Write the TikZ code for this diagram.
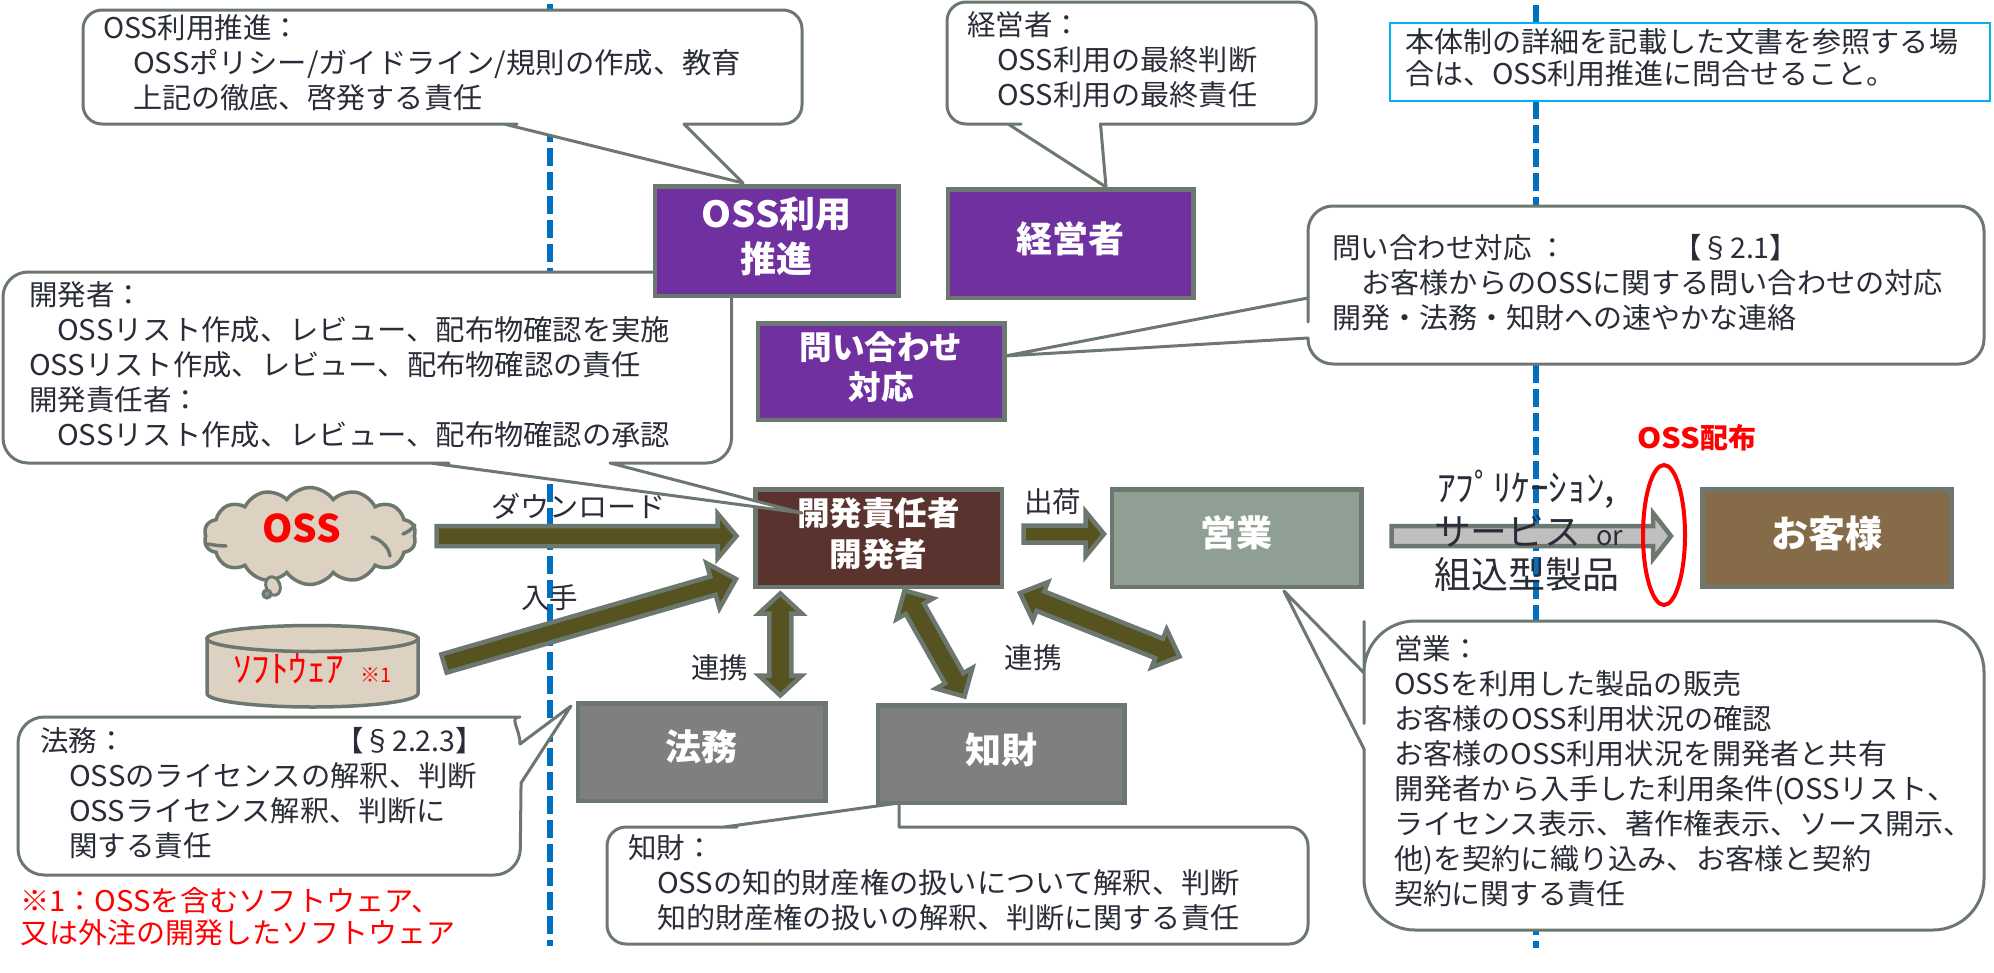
\documentclass[tikz,border=0pt]{standalone}
\usepackage{fontspec}
\usepackage{graphicx}
\setmainfont{Noto Sans CJK JP}
\usetikzlibrary{calc,shapes.geometric,shapes.symbols}
\definecolor{edge}{HTML}{6C786F}
\definecolor{ink}{HTML}{2A2D38}
\definecolor{vio}{HTML}{7030A0}
\definecolor{devb}{HTML}{5A332E}
\definecolor{sale}{HTML}{8F9F94}
\definecolor{cust}{HTML}{866B49}
\definecolor{legal}{HTML}{7F7F7F}
\definecolor{sand}{HTML}{DDD2C1}
\definecolor{olive}{HTML}{565321}
\definecolor{steel}{HTML}{BFBFBF}
\definecolor{divider}{HTML}{0070C0}
\definecolor{note}{HTML}{00B0F0}
\newcommand\fitw[2]{\resizebox{#1pt}{\height}{#2}}
\newcommand\lnstrut{\rule[-4.2pt]{0pt}{30pt}}
\newcommand\bigstrut{\rule[-1pt]{0pt}{30pt}}
\newcommand\topstrut{\rule{0pt}{30pt}}
\newcommand\botstrut[1]{\rule[-#1pt]{0pt}{#1pt}}
\newcommand\oneway[6][olive]{%
  \coordinate (hb) at ($(#3)!#5pt!(#2)$);
  \draw[blockarrow,fill=#1] ($(#2)!#4pt!90:(#3)$) -- ($(hb)!#4pt!90:(#3)$) -- ($(hb)!#6pt!90:(#3)$) -- (#3)
    -- ($(hb)!#6pt!-90:(#3)$) -- ($(hb)!#4pt!-90:(#3)$) -- ($(#2)!#4pt!-90:(#3)$) -- cycle;}
\newcommand\twoway[5]{%
  \coordinate (hb) at ($(#2)!#4pt!(#1)$);
  \coordinate (ha) at ($(#1)!#4pt!(#2)$);
  \draw[blockarrow,fill=olive] (#1) -- ($(ha)!#5pt!90:(#2)$) -- ($(ha)!#3pt!90:(#2)$) -- ($(hb)!#3pt!90:(#2)$) -- ($(hb)!#5pt!90:(#2)$) -- (#2)
    -- ($(hb)!#5pt!-90:(#2)$) -- ($(hb)!#3pt!-90:(#2)$) -- ($(ha)!#3pt!-90:(#2)$) -- ($(ha)!#5pt!-90:(#2)$) -- cycle;}
\tikzset{
  callout/.style={draw=edge,fill=white,line width=3pt,line join=round},
  blockarrow/.style={draw=edge,line width=4.5pt,line join=miter},
  rolebox/.style={draw=edge,line width=4.5pt,inner sep=0pt,text=white,align=center,
    font=\bfseries\fontsize{36}{45}\selectfont},
  bodytext/.style={anchor=west,inner sep=0pt,align=left,text=ink,font=\fontsize{28.5}{35}\selectfont},
  flowlabel/.style={inner sep=0pt,text=ink,font=\fontsize{28.5}{35}\selectfont},
  rednote/.style={anchor=west,inner sep=0pt,align=left,text=red,font=\fontsize{28.5}{32}\selectfont},
  dividerline/.style={draw=divider,line width=5.5pt,dash pattern=on 17.5pt off 6.5pt}
}
\begin{document}
\begin{tikzpicture}[x=1pt,y=-1pt]
\useasboundingbox (0,0) rectangle (1994,972);
% dashed dividers
\coordinate (divAtop) at (550,4.3); \coordinate (divAbot) at (550,946);
\coordinate (divBtop) at (1536,5); \coordinate (divBbot) at (1536,948);
\draw[dividerline] (divAtop) -- (divAbot);
\draw[dividerline] (divBtop) -- (divBbot);
% developer box below its callout
\node[rolebox,fill=devb,minimum width=246.5pt,minimum height=97.5pt,font=\bfseries\fontsize{32.6}{41}\selectfont] (dev) at (878.5,538)
  {\topstrut\fitw{163}{開発責任者}\\開発者\botstrut{14.2}};
% callouts
\draw[callout] (504,124) -- (743,183) -- (684,124) -- (690,124) [rounded corners=19pt] -- (802,124) -- (802,10) -- (83,10) -- (83,124) -- (498,124) [sharp corners] -- cycle;
\draw[callout] (1008,124) -- (1106,187) -- (1100.5,124) -- (1105,124) [rounded corners=19pt] -- (1316,124) -- (1316,2) -- (947,2) -- (947,124) -- (1002,124) [sharp corners] -- cycle;
\draw[callout] (430,463) -- (802,513) -- (610,463) -- (615,463) [rounded corners=25pt] -- (731.5,463) -- (731.5,272) -- (3,272) -- (3,463) -- (424,463) [sharp corners] -- cycle;
\draw[callout] (1308,298) -- (1005,356) -- (1308,338) -- (1308,338.5) [rounded corners=25pt] -- (1308,364) -- (1984,364) -- (1984,206) -- (1308,206) -- (1308,297) [sharp corners] -- cycle;
\draw[callout] (520,744) -- (571,706) -- (521,783) -- (521,788) [rounded corners=26pt] -- (520,875) -- (18,875) -- (18,717) -- (494,717) [sharp corners] .. controls (508.4,717) and (520,728.6) .. (520,744) -- cycle;
\draw[callout] (724,827) -- (899,803) -- (899,827) -- (905,827) [rounded corners=19pt] -- (1308,827) -- (1308,944) -- (607,944) -- (607,827) -- (718,827) [sharp corners] -- cycle;
\draw[callout] (1364,673) -- (1284,591) -- (1364,749) -- (1364,755) [rounded corners=51pt] -- (1364,930) -- (1984,930) -- (1984,621) -- (1364,621) -- (1364,672.5) [sharp corners] -- cycle;
% note box
\node[draw=note,fill=white,line width=2.5pt,inner sep=0pt,minimum width=600pt,minimum height=78pt] (notebox) at (1690,62) {};
% role boxes
\node[rolebox,fill=vio,minimum width=243.5pt,minimum height=109.5pt] (oss) at (776.5,241)
  {\topstrut\fitw{78}{OSS}利用\\推進\botstrut{13.6}};
\node[rolebox,fill=vio,minimum width=245.5pt,minimum height=108.5pt] (ceo) at (1070.5,243.5)
  {\topstrut 経営者\botstrut{13.6}};
\node[rolebox,fill=vio,minimum width=246.5pt,minimum height=96.5pt,font=\bfseries\fontsize{32.6}{40}\selectfont] (inq) at (881,371.5)
  {\topstrut 問い合わせ\\対応\botstrut{14.2}};
\node[rolebox,fill=sale,minimum width=249.5pt,minimum height=97.5pt] (sales) at (1236.5,538)
  {\topstrut 営業\botstrut{14.6}};
\node[rolebox,fill=cust,minimum width=249pt,minimum height=97.5pt,font=\bfseries\fontsize{37}{45}\selectfont] (cus) at (1827.2,538)
  {\topstrut お客様\botstrut{11.9}};
\node[rolebox,fill=legal,minimum width=247.5pt,minimum height=97.5pt] (law) at (701.5,752)
  {\topstrut 法務\botstrut{14.6}};
\node[rolebox,fill=legal,minimum width=246.5pt,minimum height=97.5pt] (ip) at (1001,754)
  {\topstrut 知財\botstrut{12.6}};
% cloud and cylinder
\node[cloud,draw=edge,fill=sand,line width=3.5pt,cloud puffs=14,cloud puff arc=110,aspect=2.15,inner sep=0pt,minimum width=212pt,minimum height=97pt] (cloud) at (310,536) {};
\draw[edge,line width=3.5pt,line cap=round] (372,537) .. controls (382,540) and (389,548) .. (390,556);
\draw[edge,line width=3.5pt,line cap=round] (207,544) .. controls (214,545) and (220,546) .. (226,546);
\draw[edge,line width=3.5pt,line cap=round] (415,525) .. controls (412,529) and (408,532) .. (403,534);
\node[ellipse,draw=edge,fill=sand,line width=3pt,inner sep=0pt,minimum width=14pt,minimum height=19pt,rotate=20] (bubbleA) at (273,586) {};
\node[circle,draw=edge,fill=edge!70!sand,line width=3pt,inner sep=0pt,minimum size=8pt] (bubbleB) at (267,594) {};
\node[text=red,inner sep=0pt,font=\bfseries\fontsize{38}{38}\selectfont] (osslabel) at (302,528) {\fitw{79}{OSS}};
\draw[draw=edge,fill=sand,line width=3.5pt] (207,638.5) -- (207,693.5) .. controls (207,701) and (254,707) .. (312.5,707) .. controls (371,707) and (418,701) .. (418,693.5) -- (418,638.5) -- cycle;
\draw[draw=edge,fill=sand,line width=3.5pt] (312.5,638.5) ellipse [x radius=105.5, y radius=13];
\node[anchor=west,inner sep=0pt,text=red,font=\fontsize{37}{37}\selectfont] (swlabel) at (233,669)
  {\bigstrut\fitw{111}{ｿﾌﾄｳｪｱ}\hspace{16pt}{\fontsize{20}{20}\selectfont ※1}};
% block arrows
\coordinate (dlA) at (436.5,536); \coordinate (dlB) at (736.5,536);
\oneway{dlA}{dlB}{10}{19}{22.5}
\coordinate (inA) at (444,663.5); \coordinate (inB) at (736,579);
\oneway{inA}{inB}{9.5}{24}{23.5}
\coordinate (shipA) at (1023.5,534); \coordinate (shipB) at (1104,534);
\oneway{shipA}{shipB}{8.5}{18.5}{22.5}
\coordinate (appA) at (1391.5,536); \coordinate (appB) at (1671,536);
\oneway[steel]{appA}{appB}{10}{18}{23}
\coordinate (lawA) at (780.3,593.5); \coordinate (lawB) at (780.3,695.5);
\twoway{lawA}{lawB}{11}{20}{21.5}
\coordinate (ipA) at (904.5,590.5); \coordinate (ipB) at (964.5,696.5);
\twoway{ipA}{ipB}{10.5}{21}{21}
\coordinate (salesA) at (1020,593); \coordinate (salesB) at (1179.5,656.5);
\twoway{salesA}{salesB}{10.5}{22}{20.5}
% red ellipse
\node[ellipse,draw=red,line width=4pt,inner sep=0pt,minimum width=42pt,minimum height=140pt] (dist) at (1664,535) {};
\node[text=red,inner sep=0pt,font=\bfseries\fontsize{28}{28}\selectfont] (distlabel) at (1696.5,438) {\fitw{63}{OSS}配布};
% flow labels
\node[flowlabel] (lbldl) at (578.5,506) {\fitw{175}{ダウンロード}};
\node[flowlabel] (lblin) at (549.5,598) {入手};
\node[flowlabel] (lbllaw) at (719.5,668) {連携};
\node[flowlabel] (lblsale) at (1033,658) {連携};
\node[flowlabel] (lblship) at (1052.5,502) {出荷};
\node[anchor=west,inner sep=0pt,align=left,text=ink,font=\fontsize{37}{43.5}\selectfont] (prod) at (1434,531)
  {\bigstrut\hspace*{3pt}\fitw{178}{ｱﾌﾟﾘｹｰｼｮﾝ,}\\
   \fitw{147}{サービス}\hspace{15pt}{\fontsize{27}{27}\selectfont or}\\
   \bigstrut\fitw{185}{組込型製品}};
% callout texts
\node[bodytext] (tOss) at (103,63)
  {\lnstrut OSS利用推進：\\
   \lnstrut\hspace*{30pt}\fitw{608}{OSSポリシー/ガイドライン/規則の作成、教育}\\
   \lnstrut\hspace*{30pt}\fitw{349}{上記の徹底、啓発する責任}};
\node[bodytext] (tCeo) at (967,60)
  {\lnstrut 経営者：\\
   \lnstrut\hspace*{30pt}\fitw{260}{OSS利用の最終判断}\\
   \lnstrut\hspace*{30pt}\fitw{260}{OSS利用の最終責任}};
\node[bodytext,font=\fontsize{28.5}{32}\selectfont] (tNote) at (1405,58)
  {\lnstrut\fitw{553}{本体制の詳細を記載した文書を参照する場}\\
   \lnstrut\fitw{490}{合は、OSS利用推進に問合せること。}};
\node[bodytext] (tInq) at (1332,282.5)
  {\lnstrut\makebox[341pt][l]{問い合わせ対応 ：}【§2.1】\\
   \lnstrut\hspace*{29pt}\fitw{582}{お客様からのOSSに関する問い合わせの対応}\\
   \lnstrut\fitw{464}{開発・法務・知財への速やかな連絡}};
\node[bodytext] (tDev) at (29,365)
  {\lnstrut 開発者：\\
   \lnstrut\hspace*{28pt}\fitw{613}{OSSリスト作成、レビュー、配布物確認を実施}\\
   \lnstrut\fitw{612}{OSSリスト作成、レビュー、配布物確認の責任}\\
   \lnstrut 開発責任者：\\
   \lnstrut\hspace*{28pt}\fitw{613}{OSSリスト作成、レビュー、配布物確認の承認}};
\node[bodytext] (tLaw) at (40,793)
  {\lnstrut\makebox[295pt][l]{法務：}【§2.2.3】\\
   \lnstrut\hspace*{29pt}\fitw{408}{OSSのライセンスの解釈、判断}\\
   \lnstrut\hspace*{29pt}\fitw{377}{OSSライセンス解釈、判断に}\\
   \lnstrut\hspace*{29pt}関する責任};
\node[bodytext] (tIp) at (628,883)
  {\lnstrut 知財：\\
   \lnstrut\hspace*{29pt}\fitw{583}{OSSの知的財産権の扱いについて解釈、判断}\\
   \lnstrut\hspace*{29pt}\fitw{582}{知的財産権の扱いの解釈、判断に関する責任}};
\node[bodytext] (tSales) at (1394,771.5)
  {\lnstrut 営業：\\
   \lnstrut\fitw{347}{OSSを利用した製品の販売}\\
   \lnstrut\fitw{378}{お客様のOSS利用状況の確認}\\
   \lnstrut\fitw{493}{お客様のOSS利用状況を開発者と共有}\\
   \lnstrut\fitw{562}{開発者から入手した利用条件(OSSリスト、}\\
   \lnstrut\fitw{578}{ライセンス表示、著作権表示、ソース開示、}\\
   \lnstrut\fitw{477}{他)を契約に織り込み、お客様と契約}\\
   \lnstrut\fitw{231}{契約に関する責任}};
\node[rednote] (tRed) at (20,917)
  {\lnstrut\fitw{420}{※1：OSSを含むソフトウェア、}\\
   \lnstrut\fitw{435}{又は外注の開発したソフトウェア}};
\end{tikzpicture}
\end{document}
